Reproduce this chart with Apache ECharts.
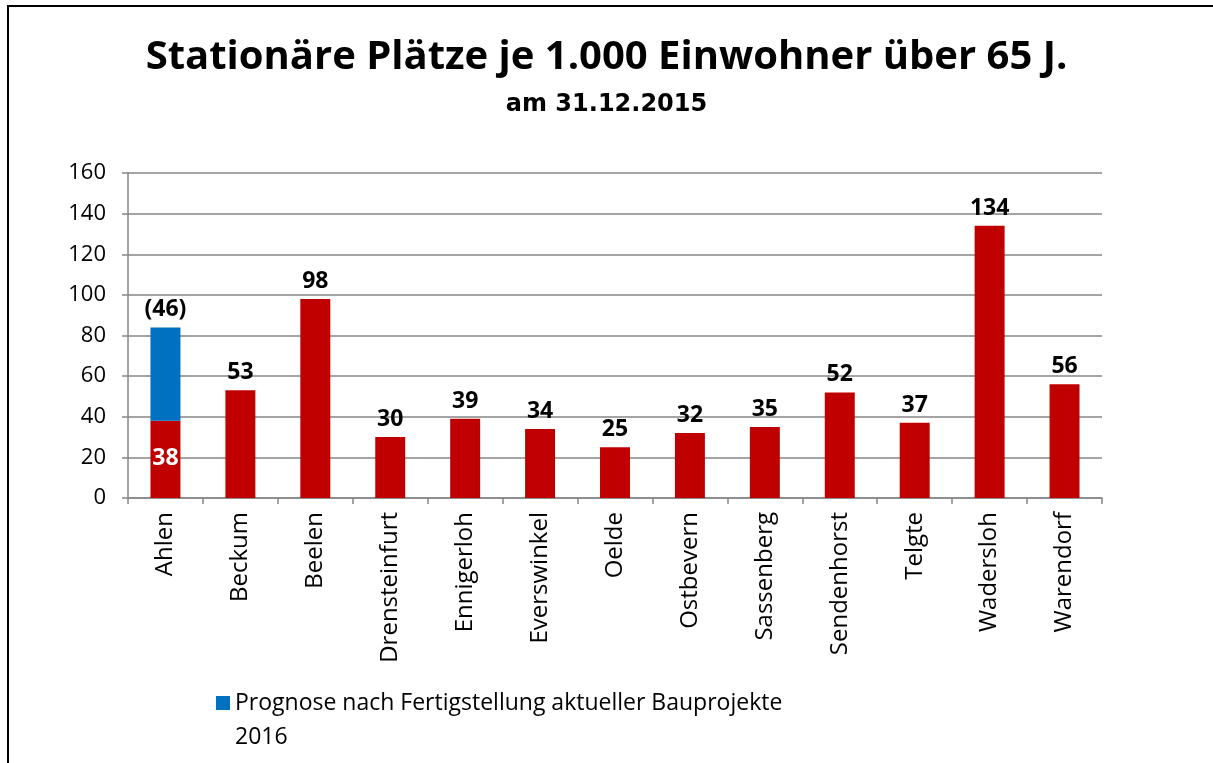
<!DOCTYPE html>
<html>
<head>
<meta charset="utf-8">
<script src="https://cdn.jsdelivr.net/npm/echarts@6/dist/echarts.min.js"></script>
<style>
html,body{margin:0;padding:0;background:#fff;}
#frame{position:absolute;left:7px;top:5px;right:0;bottom:0;border-left:2px solid #000;border-top:2px solid #000;}
#chart{position:absolute;left:0;top:0;width:1213px;height:763px;}
</style>
</head>
<body>
<div id="frame"></div>
<div id="chart"></div>
<script>
const categories = ['Ahlen','Beckum','Beelen','Drensteinfurt','Ennigerloh','Everswinkel','Oelde','Ostbevern','Sassenberg','Sendenhorst','Telgte','Wadersloh','Warendorf'];
const baseValues = [38,53,98,30,39,34,25,32,35,52,37,134,56];
const forecastValues = [46,null,null,null,null,null,null,null,null,null,null,null,null];
const yTicks = [0,20,40,60,80,100,120,140,160];
const titleText = 'Stationäre Plätze je 1.000 Einwohner über 65 J.';
const subtitleText = 'am 31.12.2015';
const baseName = 'Stationäre Plätze';
const forecastName = 'Prognose nach Fertigstellung aktueller Bauprojekte\n2016';

const FONT = '"Open Sans", "Liberation Sans", sans-serif';
const chart = echarts.init(document.getElementById('chart'), null, {renderer:'canvas'});
chart.setOption({
  backgroundColor: 'transparent',
  animation: false,
  title: [
    {text: titleText, left: 'center', top: 38, padding: 0, textStyle:{fontFamily:FONT, fontSize:40, fontWeight:'bold', color:'#000'}},
    {text: subtitleText, left: 'center', top: 93, padding: 0, textStyle:{fontFamily:'"DejaVu Sans", sans-serif', fontSize:24, fontWeight:'bold', color:'#000'}}
  ],
  legend: {
    data: [forecastName],
    left: 216, top: 686, padding: 0,
    icon: 'path://M0,0L14,0L14,14L0,14Z M0,47.99L0.01,47.99L0.01,48L0,48Z',
    itemWidth: 14, itemHeight: 48,
    textStyle: {fontFamily:FONT, fontSize:23, color:'#000', lineHeight:34},
    selectedMode: false
  },
  grid: {left:128, right:111, top:173, bottom:265, containLabel:false},
  xAxis: {
    type: 'category',
    data: categories,
    axisLine: {lineStyle:{color:'#868686', width:1.5}},
    axisTick: {show:true, alignWithLabel:false, length:6, lineStyle:{color:'#868686', width:1.5}},
    axisLabel: {rotate:90, margin:14, fontFamily:FONT, fontSize:24, color:'#000', interval:0}
  },
  yAxis: {
    type: 'value', min: 0, max: 160, interval: 20,
    axisLine: {show:true, lineStyle:{color:'#868686', width:1.5}},
    axisTick: {show:true, length:6, lineStyle:{color:'#868686', width:1.5}},
    axisLabel: {fontFamily:FONT, fontSize:22, color:'#000', margin:22,
      formatter: v => yTicks.includes(v) ? String(v) : ''},
    splitLine: {show:true, lineStyle:{color:'#868686', width:1.5}}
  },
  series: [
    {
      name: baseName, type: 'bar', stack: 'a', barWidth: '40%',
      itemStyle: {color:'#C00000'},
      data: baseValues.map((v,i) => i === 0 ? {value:v, label:{position:'insideBottom', color:'#fff', distance:28}} : v),
      label: {show:true, position:'top', distance:6, fontFamily:FONT, fontSize:23, fontWeight:'bold', color:'#000'}
    },
    {
      name: forecastName, type: 'bar', stack: 'a', barWidth: '40%',
      itemStyle: {color:'#0070C0'},
      data: forecastValues,
      label: {show:true, position:'top', distance:6, fontFamily:FONT, fontSize:23, fontWeight:'bold', color:'#000',
        formatter: p => p.value == null ? '' : '(' + p.value + ')'}
    }
  ]
});
</script>
</body>
</html>
